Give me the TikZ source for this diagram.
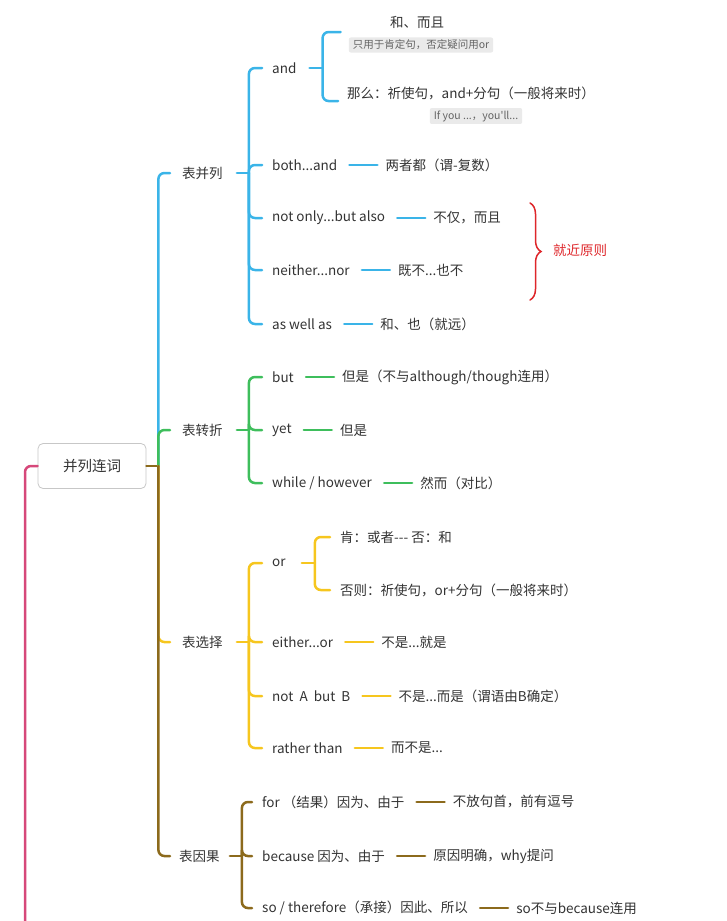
\documentclass[tikz,border=0pt]{standalone}
\usepackage{fontspec}
\setmainfont{Noto Sans CJK SC}
\newfontfamily\notefont{Noto Sans CJK SC}
\usetikzlibrary{positioning,decorations.pathreplacing}
\definecolor{cblue}{RGB}{58,180,232}
\definecolor{cgreen}{RGB}{62,190,92}
\definecolor{cyellow}{RGB}{246,198,30}
\definecolor{cbrown}{RGB}{140,106,28}
\definecolor{cpink}{RGB}{214,72,122}
\definecolor{cred}{RGB}{222,38,42}
\definecolor{txt}{RGB}{51,51,51}
\definecolor{notebg}{RGB}{234,234,234}
\definecolor{notetxt}{RGB}{100,100,100}
\tikzset{
	topic/.style = {anchor=west, inner sep=0pt, text=txt,
		font=\fontsize{13.5}{15}\selectfont},
	leaf/.style  = {topic, right=48pt of #1},
	root/.style  = {draw=black!22, line width=0.8pt, rounded corners=5pt,
		minimum width=108pt, minimum height=45pt, text=txt,
		font=\fontsize{14.5}{16}\selectfont},
	note/.style  = {fill=notebg, rounded corners=2pt, inner xsep=4pt,
		inner ysep=2.5pt, text=notetxt, font=\notefont\fontsize{10.5}{12}\selectfont},
	blu/.style   = {draw=cblue, line width=2.5pt, rounded corners=6pt},
	grn/.style   = {draw=cgreen, line width=2.5pt, rounded corners=6pt},
	ylw/.style   = {draw=cyellow, line width=2.5pt, rounded corners=6pt},
	brn/.style   = {draw=cbrown, line width=2.5pt, rounded corners=6pt},
	pnk/.style   = {draw=cpink, line width=2.5pt, rounded corners=6pt}
}

\begin{document}
\begin{tikzpicture}[x=1pt, y=-1pt, line cap=round]
	\useasboundingbox (0,0) rectangle (726,921);
	
	% root and main branches
	\node[root] (root) at (92,466) {并列连词};
	\node[topic] (g1) at (182,173) {表并列};
	\node[topic] (g2) at (182,430) {表转折};
	\node[topic] (g3) at (182,642) {表选择};
	\node[topic] (g4) at (179,856) {表因果};
	\coordinate (pk) at (25,930);
	
	% first branch
	\node[topic] (b1) at (272,68) {and};
	\node[topic] (b2) at (272,165) {both...and};
	\node[topic] (b3) at (272,218) {not only...but also};
	\node[topic] (b4) at (272,270) {neither...nor};
	\node[topic] (b5) at (272,324) {as well as};
	\node[topic, anchor=center] (b1a) at (417,22) {和、而且};
	\node[note] (b1an) at (421,45) {只用于肯定句，否定疑问用or};
	\node[topic] (b1b) at (347,93) {那么：祈使句，and+分句（一般将来时）};
	\node[note] (b1bn) at (476,116) {If you ...，you'll...};
	\node[leaf=b2] (b2a) {两者都（谓-复数）};
	\node[leaf=b3] (b3a) {不仅，而且};
	\node[leaf=b4] (b4a) {既不...也不};
	\node[leaf=b5] (b5a) {和、也（就远）};
	\coordinate (br1) at (530,203);
	\coordinate (br2) at (530,300);
	\node[topic, text=cred] (rule) at (553,250) {就近原则};
	
	% second branch
	\node[topic] (c1) at (272,377) {but};
	\node[topic] (c2) at (272,430) {yet};
	\node[topic] (c3) at (272,483) {while / however};
	\node[leaf=c1] (c1a) {但是（不与although/though连用）};
	\node[leaf=c2] (c2a) {但是};
	\node[leaf=c3] (c3a) {然而（对比）};
	
	% third branch
	\node[topic] (d1) at (272,563) {or};
	\node[topic] (d2) at (272,642) {either...or};
	\node[topic] (d3) at (272,696) {not\ \ A\ \ but\ \ B};
	\node[topic] (d4) at (272,748) {rather than};
	\node[topic] (d1a) at (340,537) {肯：或者-\kern0pt-\kern0pt- 否：和};
	\node[topic] (d1b) at (340,590) {否则：祈使句，or+分句（一般将来时）};
	\node[leaf=d2] (d2a) {不是...就是};
	\node[leaf=d3] (d3a) {不是...而是（谓语由B确定）};
	\node[leaf=d4] (d4a) {而不是...};
	
	% fourth branch
	\node[topic] (e1) at (262,802) {for （结果）因为、由于};
	\node[topic] (e2) at (262,856) {because 因为、由于};
	\node[topic] (e3) at (262,908) {so / therefore（承接）因此、所以};
	\node[leaf=e1] (e1a) {不放句首，前有逗号};
	\node[leaf=e2] (e2a) {原因明确，why提问};
	\node[leaf=e3] (e3a) {so不与because连用};
	
	% connectors
	\draw[pnk] (root.west) -| (pk);
	\draw[brn] (root.east) -- ++(12,0);
	\draw[blu] ([xshift=12]root.east) |- ([xshift=-12]g1.west);
	\draw[grn] ([xshift=12]root.east) |- ([xshift=-12]g2.west);
	\draw[ylw] ([xshift=12]root.east) |- ([xshift=-12]g3.west);
	\draw[brn] ([xshift=12]root.east) |- ([xshift=-9]g4.west);
	
	\draw[blu] ([xshift=14]g1.east) -- ++(12,0);
	\draw[blu] ([xshift=26]g1.east) |- ([xshift=-10]b1.west);
	\draw[blu] ([xshift=26]g1.east) |- ([xshift=-10]b2.west);
	\draw[blu] ([xshift=26]g1.east) |- ([xshift=-10]b3.west);
	\draw[blu] ([xshift=26]g1.east) |- ([xshift=-10]b4.west);
	\draw[blu] ([xshift=26]g1.east) |- ([xshift=-10]b5.west);
	\draw[blu] ([xshift=13]b1.east) -- ++(13,0);
	\draw[blu] ([xshift=26]b1.east) |- ([shift={(-8,-13)}]b1an.west);
	\draw[blu] ([xshift=26]b1.east) |- ([shift={(-9,8)}]b1b.west);
	\draw[blu] ([xshift=12]b2.east) -- ([xshift=-8]b2a.west);
	\draw[blu] ([xshift=12]b3.east) -- ([xshift=-8]b3a.west);
	\draw[blu] ([xshift=12]b4.east) -- ([xshift=-8]b4a.west);
	\draw[blu] ([xshift=12]b5.east) -- ([xshift=-8]b5a.west);
	\draw[cred, line width=1.5pt, decorate, decoration={brace, amplitude=11pt}]
		(br1) -- (br2);
	
	\draw[grn] ([xshift=14]g2.east) -- ++(12,0);
	\draw[grn] ([xshift=26]g2.east) |- ([xshift=-10]c1.west);
	\draw[grn] ([xshift=26]g2.east) |- ([xshift=-10]c2.west);
	\draw[grn] ([xshift=26]g2.east) |- ([xshift=-10]c3.west);
	\draw[grn] ([xshift=12]c1.east) -- ([xshift=-8]c1a.west);
	\draw[grn] ([xshift=12]c2.east) -- ([xshift=-8]c2a.west);
	\draw[grn] ([xshift=12]c3.east) -- ([xshift=-8]c3a.west);
	
	\draw[ylw] ([xshift=14]g3.east) -- ++(12,0);
	\draw[ylw] ([xshift=26]g3.east) |- ([xshift=-10]d1.west);
	\draw[ylw] ([xshift=26]g3.east) |- ([xshift=-10]d2.west);
	\draw[ylw] ([xshift=26]g3.east) |- ([xshift=-10]d3.west);
	\draw[ylw] ([xshift=26]g3.east) |- ([xshift=-10]d4.west);
	\draw[ylw] ([xshift=16]d1.east) -- ++(13,0);
	\draw[ylw] ([xshift=29]d1.east) |- ([xshift=-10]d1a.west);
	\draw[ylw] ([xshift=29]d1.east) |- ([xshift=-10]d1b.west);
	\draw[ylw] ([xshift=12]d2.east) -- ([xshift=-8]d2a.west);
	\draw[ylw] ([xshift=12]d3.east) -- ([xshift=-8]d3a.west);
	\draw[ylw] ([xshift=12]d4.east) -- ([xshift=-8]d4a.west);
	
	\draw[brn] ([xshift=10]g4.east) -- ++(12,0);
	\draw[brn] ([xshift=22]g4.east) |- ([xshift=-10]e1.west);
	\draw[brn] ([xshift=22]g4.east) |- ([xshift=-10]e2.west);
	\draw[brn] ([xshift=22]g4.east) |- ([xshift=-10]e3.west);
	\draw[brn] ([xshift=12]e1.east) -- ([xshift=-8]e1a.west);
	\draw[brn] ([xshift=12]e2.east) -- ([xshift=-8]e2a.west);
	\draw[brn] ([xshift=12]e3.east) -- ([xshift=-8]e3a.west);
\end{tikzpicture}
\end{document}
